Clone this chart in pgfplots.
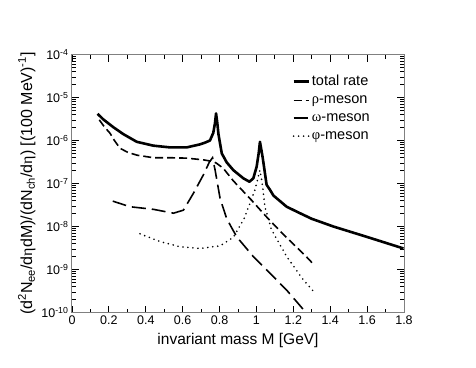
\documentclass[border=0pt]{standalone}
\usepackage{fontspec}
\setmainfont{Liberation Sans}
\newfontfamily\gr{Liberation Serif}
\usepackage{pgfplots}
\pgfplotsset{compat=1.18}

\begin{document}
\begin{tikzpicture}
\useasboundingbox (-72pt,-55.3pt) rectangle (404pt,312.5pt);
\begin{axis}[
    scale only axis,
    width=332pt, height=258pt,
    ymode=log,
    xmin=0, xmax=1.8, ymin=1e-10, ymax=1e-4,
    xtick={0,0.2,...,1.8}, minor x tick num=1,
    ytick={1e-10,1e-9,1e-8,1e-7,1e-6,1e-5,1e-4},
    yticklabels={10\textsuperscript{-10},10\textsuperscript{-9},10\textsuperscript{-8},10\textsuperscript{-7},10\textsuperscript{-6},10\textsuperscript{-5},10\textsuperscript{-4}},
    /pgf/number format/assume math mode=true,
    tick label style={font=\fontsize{12.5}{14}\selectfont},
    major tick length=7pt, minor tick length=4pt,
    axis line style={black!50, line width=1pt},
    tick style={black, line width=0.8pt},
    xlabel={invariant mass M [GeV]},
    ylabel={(d\textsuperscript{2}N\textsubscript{ee}/d{\gr η}dM)/(dN\textsubscript{ch}/d{\gr η}) [(100 MeV)\textsuperscript{-1}]},
    xlabel style={font=\fontsize{15.5}{18}\selectfont, at={(axis description cs:0.5,-0.11)}, anchor=center},
    ylabel style={font=\fontsize{16}{18}\selectfont, at={(axis description cs:-0.136,0.5)}, anchor=center},
    legend style={at={(axis description cs:0.663,0.928)}, anchor=north west,
        draw=none, fill=none, font=\fontsize{14.5}{16}\selectfont,
        row sep=4.5pt, inner sep=0pt},
    legend cell align=left,
    legend image code/.code={\draw[#1] (0pt,0pt) -- (15pt,0pt);},
]
% total rate
\addplot[black, line width=2.6pt, line join=round] coordinates {
(0.139,4.17e-6) (0.170,3.09e-6) (0.224,2.04e-6) (0.278,1.41e-6) (0.351,9.33e-7)
(0.441,7.59e-7) (0.531,6.92e-7) (0.622,6.92e-7) (0.694,8.13e-7) (0.721,8.91e-7)
(0.748,1.0e-6) (0.766,1.51e-6) (0.775,2.51e-6) (0.781,4.27e-6) (0.788,2.51e-6)
(0.794,1.41e-6) (0.812,5.01e-7) (0.839,3.09e-7) (0.875,2.04e-7) (0.929,1.32e-7)
(0.962,1.10e-7) (0.983,1.32e-7) (1.001,2.45e-7) (1.012,5.01e-7) (1.019,9.33e-7)
(1.026,6.31e-7) (1.034,3.98e-7) (1.055,9.33e-8) (1.074,7.08e-8) (1.092,5.25e-8)
(1.164,2.88e-8) (1.236,2.04e-8) (1.300,1.51e-8) (1.345,1.29e-8) (1.417,1.0e-8)
(1.598,5.75e-9) (1.797,3.09e-9)
};
\addlegendentry{total rate}
% rho
\addplot[black, line width=1.6pt, dash pattern=on 8pt off 4pt] coordinates {
(0.148,3.02e-6) (0.175,2.09e-6) (0.206,1.48e-6) (0.230,1.0e-6) (0.260,6.61e-7)
(0.300,5.37e-7) (0.351,4.57e-7) (0.441,3.98e-7) (0.531,3.98e-7) (0.622,3.89e-7)
(0.712,3.55e-7) (0.766,3.24e-7) (0.784,2.95e-7) (0.821,2.24e-7) (0.875,1.15e-7)
(0.965,4.47e-8) (1.060,1.58e-8) (1.150,6.31e-9) (1.270,2.0e-9) (1.314,1.26e-9)
};
\addlegendentry{{\gr ρ}-meson}
% omega
\addplot[black, line width=1.6pt, dash pattern=on 14pt off 6pt] coordinates {
(0.221,3.89e-8) (0.315,2.88e-8) (0.441,2.51e-8) (0.550,2.04e-8) (0.604,2.40e-8)
(0.658,5.89e-8) (0.712,1.58e-7) (0.745,3.16e-7) (0.762,3.98e-7) (0.776,2.04e-7)
(0.803,4.47e-8) (0.839,1.51e-8) (0.893,5.75e-9) (0.983,2.0e-9) (1.074,8.13e-10)
(1.164,3.31e-10) (1.264,1.05e-10)
};
\addlegendentry{{\gr ω}-meson}
% phi
\addplot[black, line width=1.8pt, line cap=round, dash pattern=on 0pt off 5pt] coordinates {
(0.369,6.76e-9) (0.477,4.47e-9) (0.586,3.39e-9) (0.694,3.09e-9) (0.803,3.55e-9)
(0.875,5.62e-9) (0.935,1.58e-8) (0.992,7.08e-8) (1.019,2.04e-7) (1.030,1.12e-7)
(1.046,2.88e-8) (1.082,8.32e-9) (1.164,2.0e-9) (1.254,5.75e-10) (1.318,2.82e-10)
};
\addlegendentry{{\gr φ}-meson}
\end{axis}
\end{tikzpicture}
\end{document}
